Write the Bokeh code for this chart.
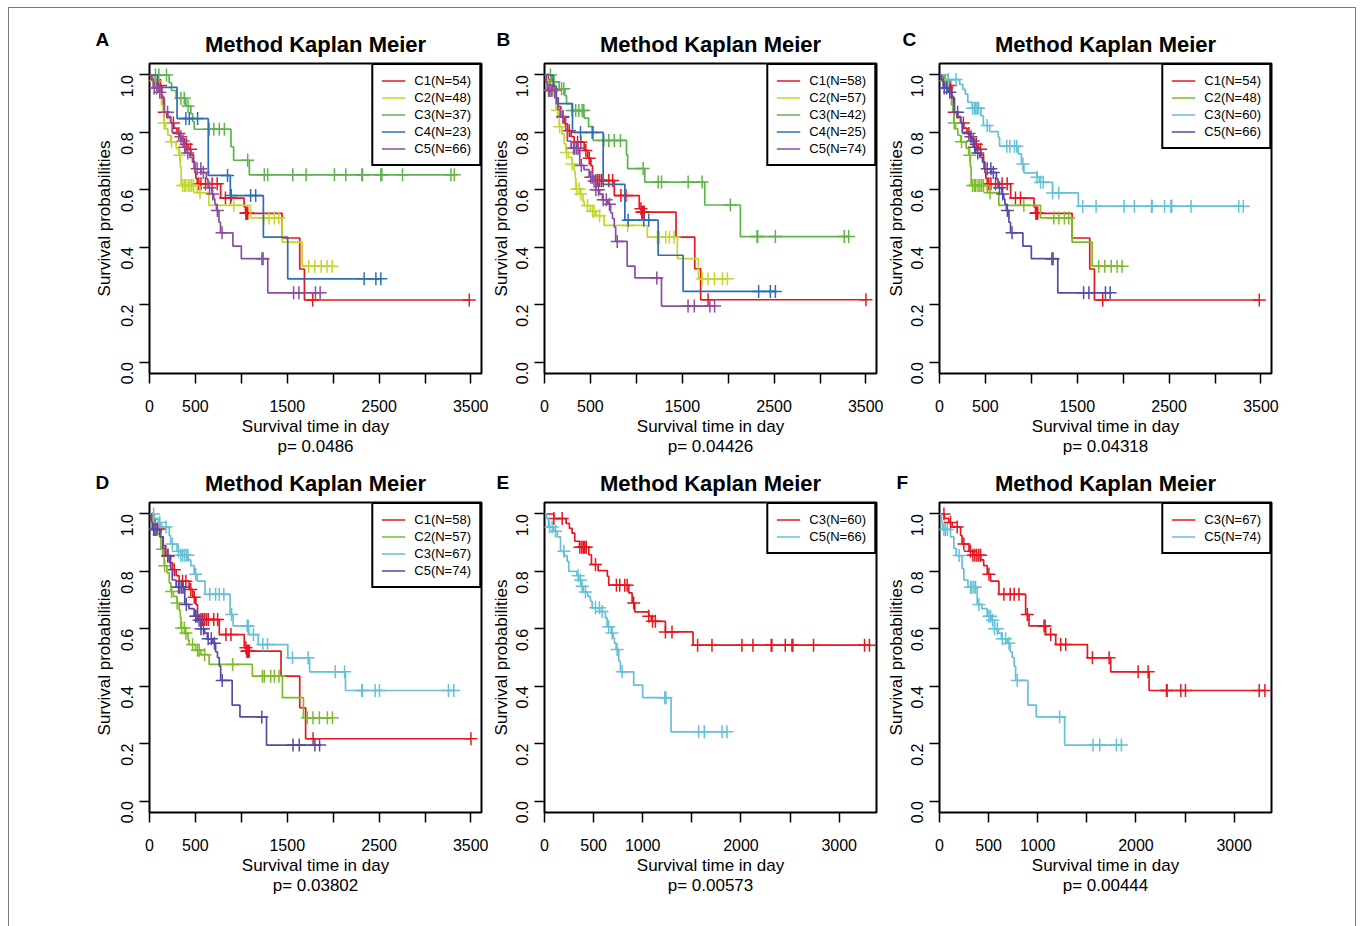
import math
import numpy as np
from bokeh.plotting import figure
from bokeh.models import Range1d, FixedTicker, Legend, LegendItem, PrintfTickFormatter, Title
from bokeh.layouts import row, column
from bokeh.embed import file_html
from bokeh.resources import INLINE

FONT = "Liberation Sans"

# ---------------- data ----------------
# Kaplan-Meier curves: event times (day), survival after each event, censor times
km_C1_54_time = [40, 100, 135, 150, 190, 230, 265, 300, 340, 380, 420, 450, 480, 495, 505, 520, 775, 1030, 1045, 1444, 1636, 1687]
km_C1_54_surv = [0.981, 0.963, 0.926, 0.870, 0.852, 0.833, 0.815, 0.796, 0.778, 0.759, 0.741, 0.722, 0.697, 0.660, 0.640, 0.621, 0.571, 0.540, 0.518, 0.432, 0.324, 0.216]
km_C1_54_cens = [60, 120, 160, 260, 320, 400, 446, 537, 560, 610, 682, 737, 827, 882, 1050, 1055, 1060, 1065, 1070, 1777, 3482]

km_C2_48_time = [50, 80, 110, 130, 145, 157, 175, 200, 230, 290, 320, 335, 345, 520, 646, 1100, 1444, 1662]
km_C2_48_surv = [0.979, 0.958, 0.938, 0.896, 0.875, 0.833, 0.812, 0.790, 0.767, 0.745, 0.720, 0.680, 0.615, 0.590, 0.546, 0.502, 0.418, 0.334]
km_C2_48_cens = [60, 160, 240, 330, 360, 380, 395, 420, 440, 460, 480, 550, 918, 1245, 1300, 1360, 1408, 1734, 1800, 1870, 1934, 1988]

km_C3_37_time = [214, 240, 290, 396, 450, 470, 487, 887, 916, 1087]
km_C3_37_surv = [0.973, 0.946, 0.919, 0.892, 0.865, 0.838, 0.811, 0.750, 0.703, 0.652]
km_C3_37_cens = [65, 102, 185, 342, 378, 420, 650, 700, 760, 815, 1069, 1250, 1287, 1560, 1705, 2014, 2137, 2312, 2319, 2519, 2530, 2755, 3282, 3319]

km_C4_23_time = [87, 300, 640, 880, 1240, 1505]
km_C4_23_surv = [0.957, 0.848, 0.650, 0.580, 0.435, 0.290]
km_C4_23_cens = [396, 433, 524, 850, 890, 1101, 1156, 2337, 2465, 2519]

km_C5_66_time = [20, 40, 95, 130, 163, 200, 231, 247, 330, 350, 372, 395, 440, 468, 485, 560, 620, 637, 680, 700, 712, 729, 756, 773, 908, 1000, 1288]
km_C5_66_surv = [0.985, 0.955, 0.940, 0.920, 0.870, 0.855, 0.835, 0.800, 0.785, 0.770, 0.748, 0.728, 0.713, 0.696, 0.673, 0.660, 0.638, 0.607, 0.585, 0.568, 0.550, 0.528, 0.487, 0.450, 0.404, 0.360, 0.241]
km_C5_66_cens = [51, 78, 112, 197, 342, 366, 383, 417, 519, 559, 586, 654, 688, 739, 790, 1224, 1237, 1569, 1627, 1807, 1858]

km_C3_60_time = [95, 220, 254, 281, 308, 356, 451, 478, 546, 640, 654, 858, 892, 919, 1061, 1088, 1231, 1512]
km_C3_60_surv = [0.984, 0.967, 0.950, 0.933, 0.905, 0.884, 0.858, 0.824, 0.803, 0.783, 0.752, 0.725, 0.690, 0.659, 0.644, 0.626, 0.589, 0.543]
km_C3_60_cens = [95, 180, 360, 380, 395, 410, 425, 519, 732, 766, 817, 841, 908, 1061, 1100, 1129, 1231, 1298, 1559, 1705, 2010, 2122, 2308, 2315, 2451, 2519, 2529, 2739, 3258, 3308]

km_C1_58_time = [30, 60, 90, 124, 150, 178, 220, 251, 290, 323, 432, 470, 505, 523, 760, 1032, 1060, 1432, 1636, 1700]
km_C1_58_surv = [0.983, 0.966, 0.948, 0.920, 0.890, 0.853, 0.830, 0.806, 0.785, 0.766, 0.737, 0.710, 0.684, 0.632, 0.580, 0.534, 0.522, 0.435, 0.325, 0.217]
km_C1_58_cens = [40, 110, 200, 270, 360, 396, 450, 487, 560, 580, 600, 620, 640, 700, 742, 832, 887, 1050, 1060, 1065, 1070, 1080, 1087, 1781, 3500]

km_C2_57_time = [30, 45, 90, 124, 150, 160, 190, 215, 233, 260, 300, 323, 335, 342, 385, 420, 432, 500, 560, 650, 1120, 1447, 1676]
km_C2_57_surv = [0.982, 0.947, 0.930, 0.877, 0.860, 0.820, 0.795, 0.760, 0.730, 0.713, 0.690, 0.665, 0.640, 0.603, 0.585, 0.560, 0.545, 0.525, 0.510, 0.476, 0.435, 0.360, 0.290]
km_C2_57_cens = [60, 142, 165, 240, 300, 350, 378, 396, 469, 523, 540, 600, 905, 1229, 1250, 1320, 1360, 1410, 1719, 1780, 1850, 1937, 1992]

km_C3_42_time = [80, 160, 222, 240, 300, 430, 480, 531, 893, 905, 1092, 1745, 2133]
km_C3_42_surv = [0.976, 0.952, 0.928, 0.900, 0.876, 0.850, 0.820, 0.772, 0.722, 0.674, 0.627, 0.547, 0.437]
km_C3_42_cens = [65, 102, 186, 210, 301, 340, 374, 410, 428, 646, 700, 760, 827, 1074, 1238, 1274, 1564, 1716, 2024, 2314, 2321, 2514, 3264, 3312]

km_C4_25_time = [95, 130, 305, 639, 875, 1237, 1509]
km_C4_25_surv = [0.960, 0.900, 0.800, 0.619, 0.494, 0.372, 0.246]
km_C4_25_cens = [392, 519, 911, 1081, 1135, 2332, 2459, 2514]

km_C5_74_time = [20, 30, 112, 146, 170, 230, 248, 290, 384, 430, 486, 530, 560, 600, 630, 690, 720, 740, 760, 775, 900, 985, 1274]
km_C5_74_surv = [0.973, 0.946, 0.920, 0.880, 0.855, 0.810, 0.770, 0.745, 0.685, 0.670, 0.644, 0.630, 0.600, 0.585, 0.565, 0.550, 0.520, 0.500, 0.470, 0.420, 0.334, 0.293, 0.195]
km_C5_74_cens = [45, 60, 80, 200, 316, 330, 350, 367, 401, 503, 520, 540, 560, 588, 639, 673, 707, 792, 1223, 1563, 1631, 1801, 1852]

km_C3_67_time = [50, 95, 130, 215, 230, 300, 340, 420, 450, 486, 520, 605, 877, 911, 1081, 1183, 1506, 1743, 2134]
km_C3_67_surv = [0.985, 0.970, 0.955, 0.925, 0.895, 0.870, 0.856, 0.840, 0.820, 0.790, 0.766, 0.720, 0.650, 0.610, 0.580, 0.545, 0.499, 0.450, 0.385]
km_C3_67_cens = [45, 112, 180, 248, 316, 340, 360, 380, 400, 418, 503, 656, 720, 760, 809, 894, 1064, 1075, 1132, 1234, 1285, 1557, 1727, 2022, 2124, 2311, 2317, 2457, 2504, 3255, 3313]

panel_letters = ["A", "B", "C", "D", "E", "F"]
panel_pvalues = ["p= 0.0486", "p= 0.04426", "p= 0.04318", "p= 0.03802", "p= 0.00573", "p= 0.00444"]
panel_curves = [
    ["C1_54", "C2_48", "C3_37", "C4_23", "C5_66"],
    ["C1_58", "C2_57", "C3_42", "C4_25", "C5_74"],
    ["C1_54", "C2_48", "C3_60", "C5_66"],
    ["C1_58", "C2_57", "C3_67", "C5_74"],
    ["C3_60", "C5_66"],
    ["C3_67", "C5_74"],
]
panel_legend_labels = [
    ["C1(N=54)", "C2(N=48)", "C3(N=37)", "C4(N=23)", "C5(N=66)"],
    ["C1(N=58)", "C2(N=57)", "C3(N=42)", "C4(N=25)", "C5(N=74)"],
    ["C1(N=54)", "C2(N=48)", "C3(N=60)", "C5(N=66)"],
    ["C1(N=58)", "C2(N=57)", "C3(N=67)", "C5(N=74)"],
    ["C3(N=60)", "C5(N=66)"],
    ["C3(N=67)", "C5(N=74)"],
]
xticks_long = [0, 500, 1000, 1500, 2000, 2500, 3000, 3500]
xticks_long_labels = ["0", "500", "", "1500", "", "2500", "", "3500"]
xticks_short = [0, 500, 1000, 1500, 2000, 2500, 3000]
xticks_short_labels = ["0", "500", "1000", "", "2000", "", "3000"]
yticks = [0.0, 0.2, 0.4, 0.6, 0.8, 1.0]

# ---------------- styling ----------------
RED = "#E8161E"
YGREEN = "#C4D52E"
GREEN = "#5DB44C"
BLUE = "#2E6DB6"
PURPLE = "#8C4D9F"
GREEN2 = "#7DBB2A"
CYAN = "#64C1D6"
INDIGO = "#5949A6"
panel_colors = [
    [RED, YGREEN, GREEN, BLUE, PURPLE],
    [RED, YGREEN, GREEN, BLUE, PURPLE],
    [RED, GREEN2, CYAN, INDIGO],
    [RED, GREEN2, CYAN, INDIGO],
    [RED, CYAN],
    [RED, CYAN],
]

CURVES = {
    "C1_54": (km_C1_54_time, km_C1_54_surv, km_C1_54_cens),
    "C2_48": (km_C2_48_time, km_C2_48_surv, km_C2_48_cens),
    "C3_37": (km_C3_37_time, km_C3_37_surv, km_C3_37_cens),
    "C4_23": (km_C4_23_time, km_C4_23_surv, km_C4_23_cens),
    "C5_66": (km_C5_66_time, km_C5_66_surv, km_C5_66_cens),
    "C3_60": (km_C3_60_time, km_C3_60_surv, km_C3_60_cens),
    "C1_58": (km_C1_58_time, km_C1_58_surv, km_C1_58_cens),
    "C2_57": (km_C2_57_time, km_C2_57_surv, km_C2_57_cens),
    "C3_42": (km_C3_42_time, km_C3_42_surv, km_C3_42_cens),
    "C4_25": (km_C4_25_time, km_C4_25_surv, km_C4_25_cens),
    "C5_74": (km_C5_74_time, km_C5_74_surv, km_C5_74_cens),
    "C3_67": (km_C3_67_time, km_C3_67_surv, km_C3_67_cens),
}

FW, FH = 332, 310
Y0, Y1 = -0.04, 1.04


def step_path(times, survs, cens):
    end = max(max(times), max(cens))
    x = [0] + list(times) + [end]
    y = [1.0] + list(survs) + [survs[-1]]
    return x, y


def censor_points(times, survs, cens):
    t = np.asarray(times, dtype=float)
    s = np.asarray(survs, dtype=float)
    idx = np.searchsorted(t, np.asarray(cens, dtype=float), side="right")
    ys = [1.0 if i == 0 else float(s[i - 1]) for i in idx]
    return list(cens), ys


def make_panel(i, bl, br, bt, bb, xmax, xticks, xlabels, letter_off, letter_standoff, ylab_standoff):
    p = figure(frame_width=FW, frame_height=FH,
               x_range=Range1d(0, xmax), y_range=Range1d(Y0, Y1),
               min_border_left=bl, min_border_right=br, min_border_top=bt, min_border_bottom=bb,
               output_backend="svg", toolbar_location=None, title=None)
    p.grid.visible = False
    p.outline_line_color = "black"
    p.outline_line_width = 2
    p.outline_line_alpha = 1.0
    p.background_fill_color = "white"
    p.border_fill_color = "white"

    p.xaxis.ticker = FixedTicker(ticks=xticks)
    p.xaxis.major_label_overrides = {t: lab for t, lab in zip(xticks, xlabels)}
    p.yaxis.ticker = FixedTicker(ticks=yticks)
    p.yaxis.formatter = PrintfTickFormatter(format="%.1f")
    for ax in p.axis:
        ax.axis_line_color = None
        ax.major_tick_line_color = "black"
        ax.major_tick_line_width = 1.5
        ax.major_tick_out = 10
        ax.major_tick_in = 0
        ax.minor_tick_line_color = None
        ax.major_label_text_font = FONT
        ax.major_label_text_font_size = "16px"
        ax.major_label_text_color = "black"
        ax.axis_label_text_font = FONT
        ax.axis_label_text_font_size = "17px"
        ax.axis_label_text_font_style = "normal"
        ax.axis_label_text_color = "black"
    p.xaxis.major_label_standoff = 16
    p.yaxis.major_label_standoff = 12
    p.yaxis.major_label_orientation = math.pi / 2
    p.xaxis.axis_label = "Survival time in day"
    p.xaxis.axis_label_standoff = 2
    p.yaxis.axis_label = "Survival probabilities"
    p.yaxis.axis_label_standoff = ylab_standoff

    items = []
    for key, color, lab in zip(panel_curves[i], panel_colors[i], panel_legend_labels[i]):
        times, survs, cens = CURVES[key]
        sx, sy = step_path(times, survs, cens)
        r = p.step(sx, sy, mode="after", line_color=color, line_width=1.7)
        cx, cy = censor_points(times, survs, cens)
        p.scatter(cx, cy, marker="cross", size=13, line_color=color, line_width=1.5)
        items.append(LegendItem(label=lab, renderers=[r]))

    leg = Legend(items=items, location="top_right", margin=0, padding=8, spacing=2,
                 glyph_width=24, glyph_height=15, label_height=15, label_standoff=9,
                 label_text_font=FONT, label_text_font_size="13px", label_text_color="black",
                 border_line_color="black", border_line_width=2, border_line_alpha=1.0,
                 background_fill_color="white", background_fill_alpha=1.0)
    p.add_layout(leg)

    main_title = Title(text="Method Kaplan Meier", align="center", vertical_align="top", standoff=9,
                       text_font=FONT, text_font_size="22px", text_font_style="bold", text_color="black")
    p.add_layout(main_title, "above")
    letter = Title(text=panel_letters[i], align="left", vertical_align="bottom", standoff=letter_standoff,
                   offset=letter_off, text_font=FONT, text_font_size="19px", text_font_style="bold",
                   text_color="black")
    p.add_layout(letter, "above")
    pval = Title(text=panel_pvalues[i], align="center", vertical_align="top", standoff=-4,
                 text_font=FONT, text_font_size="17px", text_font_style="normal", text_color="black")
    p.add_layout(pval, "below")
    return p


XMAX_LONG = 3615
XMAX_SHORT = 3380

pA = make_panel(0, 140, 7, 55, 88, XMAX_LONG, xticks_long, xticks_long_labels, -54, -44, -1)
pB = make_panel(1, 55, 7, 55, 88, XMAX_LONG, xticks_long, xticks_long_labels, -48, -44, -3)
pC = make_panel(2, 56, 84, 55, 88, XMAX_LONG, xticks_long, xticks_long_labels, -37, -44, -3)
pD = make_panel(3, 140, 7, 41, 114, XMAX_LONG, xticks_long, xticks_long_labels, -54, -52, -1)
pE = make_panel(4, 55, 7, 41, 114, XMAX_SHORT, xticks_short, xticks_short_labels, -48, -52, -3)
pF = make_panel(5, 56, 84, 41, 114, XMAX_SHORT, xticks_short, xticks_short_labels, -43, -52, -3)

layout = column(row(pA, pB, pC), row(pD, pE, pF),
                styles={"margin-left": "8px", "margin-top": "7px",
                        "border-left": "1px solid #7a7a7a", "border-top": "1px solid #7a7a7a",
                        "border-right": "1px solid #7a7a7a", "background-color": "white"})

with open("out.html", "w") as f:
    f.write(file_html(layout, INLINE))
